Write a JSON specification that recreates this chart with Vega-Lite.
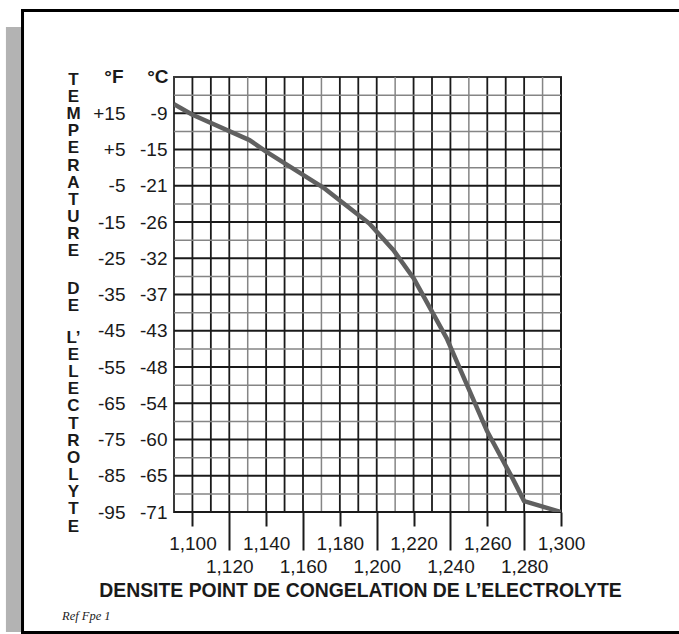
{
  "$schema": "https://vega.github.io/schema/vega-lite/v6.json",
  "width": 387,
  "height": 435,
  "autosize": "none",
  "padding": {"left": 174, "top": 77, "right": 118, "bottom": 122},
  "background": "white",
  "config": {
    "font": "Liberation Sans",
    "view": {"stroke": "#3a3a3a", "strokeWidth": 2}
  },
  "title": {
    "text": "Ref Fpe 1",
    "orient": "bottom",
    "anchor": "start",
    "frame": "group",
    "dx": -112,
    "offset": -24,
    "font": "Liberation Serif",
    "fontStyle": "italic",
    "fontWeight": "normal",
    "fontSize": 12.5,
    "color": "#222222"
  },
  "datasets": {
    "vgray": [{"density": 1.13}, {"density": 1.17}, {"density": 1.21}, {"density": 1.25}, {"density": 1.29}],
    "vdark": [{"density": 1.10}, {"density": 1.11}, {"density": 1.12}, {"density": 1.14}, {"density": 1.15}, {"density": 1.16}, {"density": 1.18}, {"density": 1.19}, {"density": 1.20}, {"density": 1.22}, {"density": 1.23}, {"density": 1.24}, {"density": 1.26}, {"density": 1.27}, {"density": 1.28}, {"density": 1.30}],
    "hgray": [{"tempF": 20}, {"tempF": 10}, {"tempF": 0}, {"tempF": -10}, {"tempF": -20}, {"tempF": -30}, {"tempF": -40}, {"tempF": -50}, {"tempF": -60}, {"tempF": -70}, {"tempF": -80}, {"tempF": -90}],
    "hdark": [{"tempF": 15}, {"tempF": 5}, {"tempF": -5}, {"tempF": -15}, {"tempF": -25}, {"tempF": -35}, {"tempF": -45}, {"tempF": -55}, {"tempF": -65}, {"tempF": -75}, {"tempF": -85}, {"tempF": -95}],
    "curve": [
      {"density": 1.090, "tempF": 17.5},
      {"density": 1.100, "tempF": 14.6},
      {"density": 1.131, "tempF": 7.6},
      {"density": 1.140, "tempF": 4.4},
      {"density": 1.171, "tempF": -5.5},
      {"density": 1.196, "tempF": -15.4},
      {"density": 1.209, "tempF": -22.7},
      {"density": 1.220, "tempF": -30.5},
      {"density": 1.238, "tempF": -47.1},
      {"density": 1.260, "tempF": -72.8},
      {"density": 1.274, "tempF": -86},
      {"density": 1.280, "tempF": -92},
      {"density": 1.300, "tempF": -95}
    ]
  },
  "resolve": {
    "scale": {"y": "independent"},
    "axis": {"x": "independent", "y": "independent"}
  },
  "layer": [
    {
      "data": {"values": [{}]},
      "mark": {"type": "rect", "fill": "#b3b3b3", "clip": false},
      "encoding": {
        "x": {"datum": 0.9988, "type": "quantitative", "scale": {"domain": [1.09, 1.3], "nice": false, "zero": false}, "axis": null},
        "x2": {"datum": 1.0075},
        "y": {
          "datum": 38.8, "type": "quantitative",
          "scale": {"domain": [-95, 25], "nice": false, "zero": false},
          "axis": {
            "orient": "left",
            "labels": false, "ticks": false, "domain": false, "grid": false,
            "title": ["D", "E"],
            "titleAngle": 0, "titleX": -101, "titleY": 216,
            "titleAlign": "center", "titleBaseline": "alphabetic",
            "titleLineHeight": 17.2, "titleFontSize": 17, "titleFontWeight": "bold",
            "titleColor": "#1a1a1a"
          }
        },
        "y2": {"datum": -128.1}
      }
    },
    {
      "data": {"values": [{}]},
      "mark": {"type": "rect", "filled": false, "stroke": "#000000", "strokeWidth": 3, "clip": false},
      "encoding": {
        "x": {"datum": 1.0078, "type": "quantitative", "scale": {"domain": [1.09, 1.3], "nice": false, "zero": false}, "axis": null},
        "x2": {"datum": 1.37},
        "y": {
          "datum": 43.34, "type": "quantitative",
          "scale": {"domain": [-95, 25], "nice": false, "zero": false},
          "axis": {
            "orient": "left",
            "labels": false, "ticks": false, "domain": false, "grid": false,
            "title": ["L’", "E", "L", "E", "C", "T", "R", "O", "L", "Y", "T", "E"],
            "titleAngle": 0, "titleX": -101, "titleY": 265,
            "titleAlign": "center", "titleBaseline": "alphabetic",
            "titleLineHeight": 17.2, "titleFontSize": 17, "titleFontWeight": "bold",
            "titleColor": "#1a1a1a"
          }
        },
        "y2": {"datum": -128.24}
      }
    },
    {
      "data": {"name": "vgray"},
      "mark": {"type": "rule", "color": "#858585", "strokeWidth": 1.5},
      "encoding": {
        "x": {
          "field": "density", "type": "quantitative",
          "scale": {"domain": [1.09, 1.3], "nice": false, "zero": false},
          "axis": {
            "orient": "bottom",
            "values": [1.12, 1.16, 1.2, 1.24, 1.28],
            "labelExpr": "replace(format(datum.value, '.3f'), '.', ',')",
            "domain": false, "grid": false,
            "ticks": true, "tickSize": 38, "tickWidth": 2, "tickColor": "#1a1a1a",
            "labelFontSize": 19, "labelColor": "#1a1a1a", "labelPadding": 7,
            "labelFlush": false, "labelOverlap": false,
            "title": "DENSITE POINT DE CONGELATION DE L’ELECTROLYTE",
            "titleFontSize": 19.4, "titleFontWeight": "bold", "titleColor": "#1a1a1a",
            "titlePadding": 5, "titleX": 186
          }
        }
      }
    },
    {
      "data": {"name": "vdark"},
      "mark": {"type": "rule", "color": "#1a1a1a", "strokeWidth": 1.8},
      "encoding": {
        "x": {
          "field": "density", "type": "quantitative",
          "scale": {"domain": [1.09, 1.3], "nice": false, "zero": false},
          "axis": {
            "orient": "bottom",
            "values": [1.1, 1.14, 1.18, 1.22, 1.26, 1.3],
            "labelExpr": "replace(format(datum.value, '.3f'), '.', ',')",
            "domain": false, "grid": false,
            "ticks": true, "tickSize": 14, "tickWidth": 2, "tickColor": "#1a1a1a",
            "labelFontSize": 19, "labelColor": "#1a1a1a", "labelPadding": 8,
            "labelFlush": false, "labelOverlap": false,
            "title": null
          }
        }
      }
    },
    {
      "data": {"name": "hgray"},
      "mark": {"type": "rule", "color": "#858585", "strokeWidth": 1.5},
      "encoding": {
        "y": {
          "field": "tempF", "type": "quantitative",
          "scale": {"domain": [-95, 25], "nice": false, "zero": false},
          "axis": {
            "orient": "left",
            "labels": false, "ticks": false, "domain": false, "grid": false,
            "title": ["T", "E", "M", "P", "E", "R", "A", "T", "U", "R", "E"],
            "titleAngle": 0, "titleX": -101, "titleY": 7,
            "titleAlign": "center", "titleBaseline": "alphabetic",
            "titleLineHeight": 17.2, "titleFontSize": 17, "titleFontWeight": "bold",
            "titleColor": "#1a1a1a"
          }
        }
      }
    },
    {
      "data": {"name": "hdark"},
      "mark": {"type": "rule", "color": "#1a1a1a", "strokeWidth": 1.8},
      "encoding": {
        "y": {
          "field": "tempF", "type": "quantitative",
          "scale": {"domain": [-95, 25], "nice": false, "zero": false},
          "axis": {
            "orient": "left",
            "values": [15, 5, -5, -15, -25, -35, -45, -55, -65, -75, -85, -95],
            "labelExpr": "['-71','-65','-60','-54','-48','-43','-37','-32','-26','-21','-15','-9'][round((datum.value + 95) / 10)]",
            "ticks": false, "domain": false, "grid": false,
            "labelPadding": 7, "labelFontSize": 19, "labelColor": "#1a1a1a",
            "labelOverlap": false, "labelFlush": false,
            "title": "°C",
            "titleAngle": 0, "titleX": -6, "titleY": 5,
            "titleAlign": "right", "titleBaseline": "alphabetic",
            "titleFontSize": 19, "titleFontWeight": "bold", "titleColor": "#1a1a1a"
          }
        }
      }
    },
    {
      "data": {"name": "curve"},
      "mark": {"type": "line", "color": "#606060", "strokeWidth": 4.5, "strokeJoin": "round", "clip": true},
      "encoding": {
        "x": {"field": "density", "type": "quantitative", "scale": {"domain": [1.09, 1.3], "nice": false, "zero": false}, "axis": null},
        "y": {
          "field": "tempF", "type": "quantitative",
          "scale": {"domain": [-95, 25], "nice": false, "zero": false},
          "axis": {
            "orient": "left",
            "values": [15, 5, -5, -15, -25, -35, -45, -55, -65, -75, -85, -95],
            "labelExpr": "(datum.value > 0 ? '+' : '') + datum.value",
            "ticks": false, "domain": false, "grid": false,
            "labelPadding": 49, "labelFontSize": 19, "labelColor": "#1a1a1a",
            "labelOverlap": false, "labelFlush": false,
            "title": "°F",
            "titleAngle": 0, "titleX": -51, "titleY": 5,
            "titleAlign": "right", "titleBaseline": "alphabetic",
            "titleFontSize": 19, "titleFontWeight": "bold", "titleColor": "#1a1a1a"
          }
        }
      }
    }
  ]
}
